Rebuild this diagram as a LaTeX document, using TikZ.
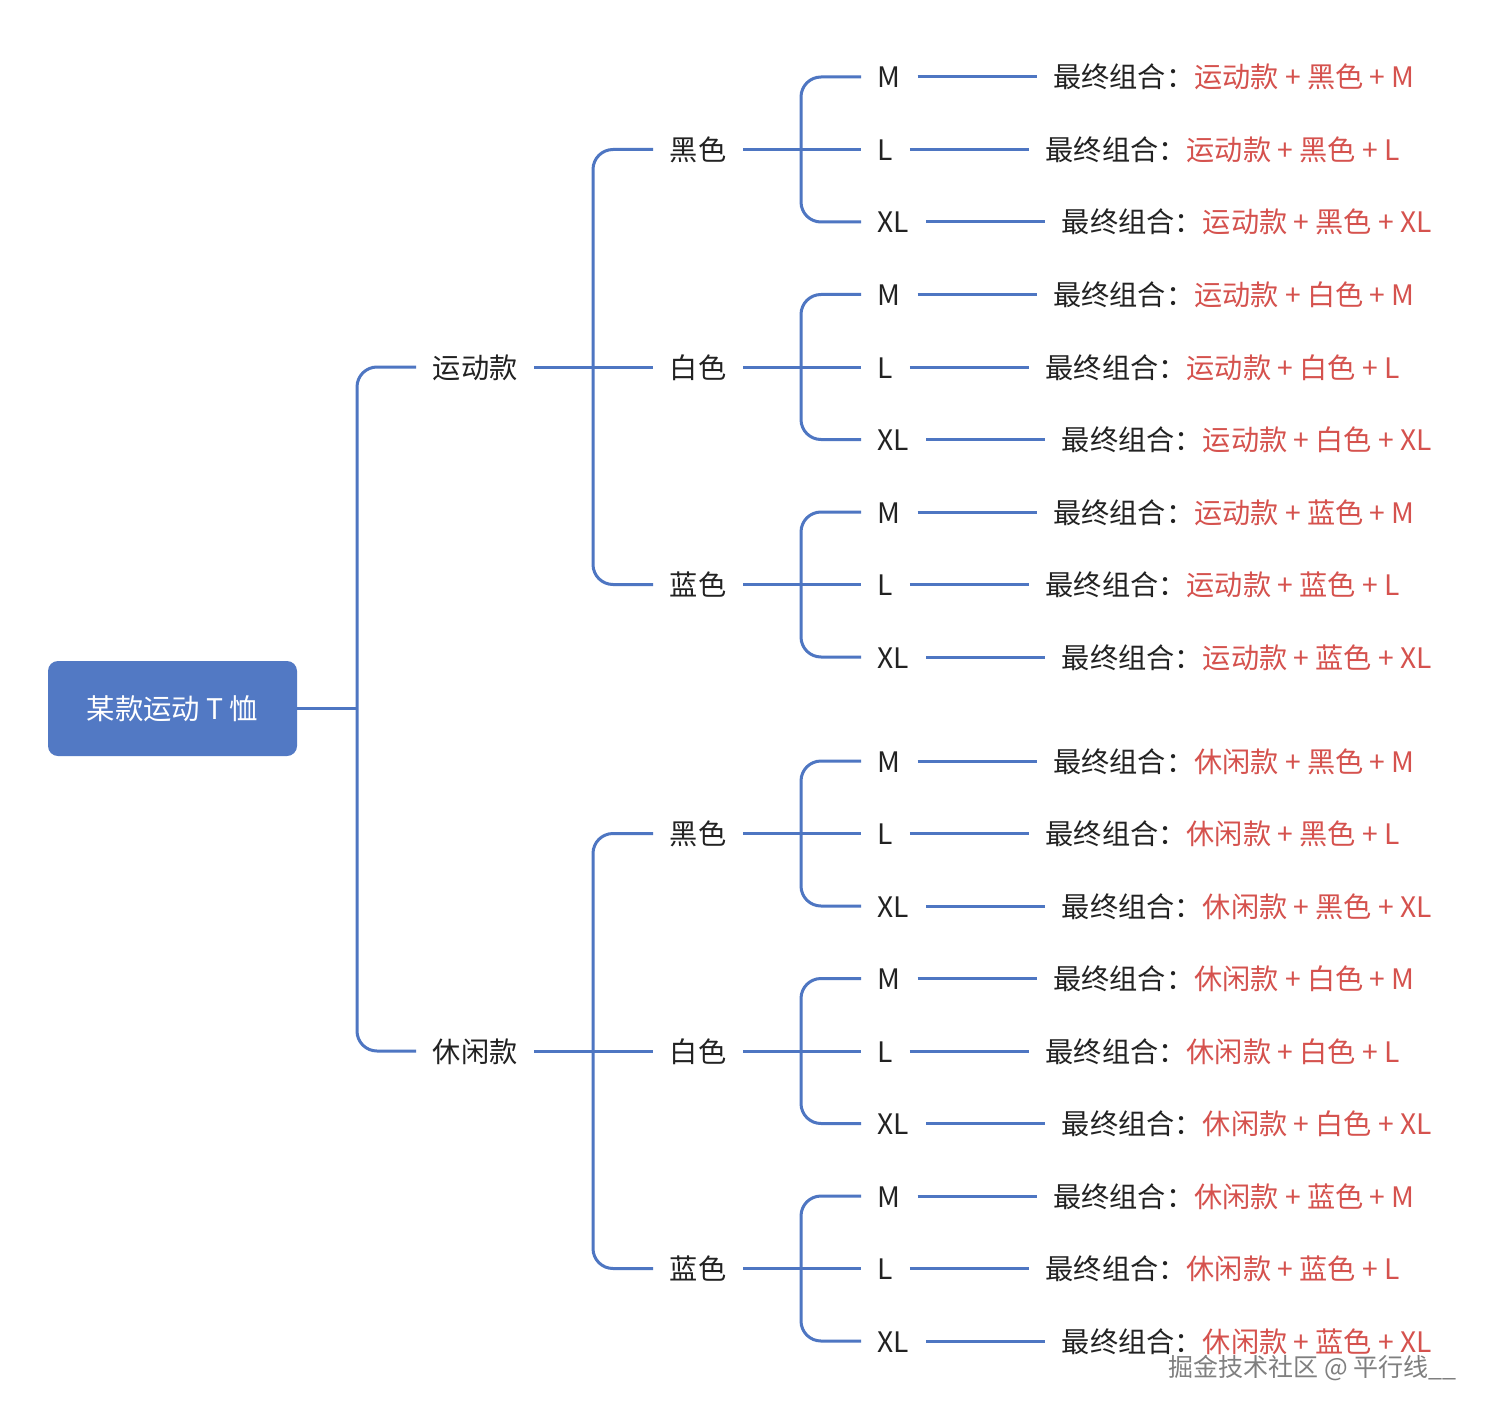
\documentclass[tikz,border=0pt]{standalone}
\usepackage{fontspec}
\setmainfont{Noto Sans CJK SC}
\usetikzlibrary{calc}
\definecolor{lineblue}{HTML}{4E76C2}
\definecolor{boxblue}{HTML}{5279C4}
\definecolor{txtred}{HTML}{D5524E}
\definecolor{txtdark}{HTML}{222222}
\definecolor{wmgray}{HTML}{7F7F7F}
\begin{document}
\begin{tikzpicture}[x=0.5pt,y=-0.5pt,
  lbl/.style={anchor=west, inner xsep=8.2pt, inner ysep=0pt, text height=1.1em, text depth=0em, font=\fontsize{14.1pt}{16pt}\selectfont, text=txtdark},
  rootbox/.style={fill=boxblue, rounded corners=5pt, minimum width=124.5pt, minimum height=47.5pt, inner sep=0pt, text height=1.1em, text depth=0em, text=white, font=\fontsize{14.2pt}{16pt}\selectfont},
  conn/.style={draw=lineblue, line width=1.5pt, rounded corners=10pt},
  wm/.style={anchor=west, inner sep=0pt, text=wmgray, font=\fontsize{12.5pt}{14pt}\selectfont}
]
\useasboundingbox (0,0) rectangle (1491,1417);
\fill[white] (0,0) rectangle (1491,1417);
\node[rootbox] (root) at (172.5,708.5) {某款运动 T 恤};
\foreach \g/\gname/\gy in {1/运动款/367,2/休闲款/1051}{
  \node[lbl] (g\g) at (416,\gy) {\gname};
  \foreach \c/\cname in {1/黑色,2/白色,3/蓝色}{
    \pgfmathsetmacro\cy{\gy+(\c-2)*217.5}
    \node[lbl] (n\g-\c) at (653,\cy) {\cname};
    \foreach \s/\sname in {1/M,2/L,3/XL}{
      \pgfmathsetmacro\sy{\cy+(\s-2)*72.5}
      \node[lbl] (s\g-\c-\s) at (861,\sy) {\sname};
      \node[lbl] (f\g-\c-\s) at ($(s\g-\c-\s.east)+(119,0)$) {最终组合：\textcolor{txtred}{\gname{} + \cname{} + \sname}};
      \draw[conn] (s\g-\c-\s.east) -- (f\g-\c-\s.west);
    }
    \draw[conn] (s\g-\c-1.west) -| ($(s\g-\c-3.west)+(-60,0)$) -- (s\g-\c-3.west);
    \draw[conn] (n\g-\c.east) -- (s\g-\c-2.west);
  }
  \draw[conn] (n\g-1.west) -| ($(n\g-3.west)+(-60,0)$) -- (n\g-3.west);
  \draw[conn] (g\g.east) -- (n\g-2.west);
}
\coordinate (j0) at ($(g1.west)+(-59,0)$);
\draw[conn] (g1.west) -| ($(g2.west)+(-59,0)$) -- (g2.west);
\draw[conn] (root.east) -- (root.east -| j0);
\node[wm] (wmark) at (1168,1368) {掘金技术社区 @ 平行线\_\_};
\end{tikzpicture}
\end{document}
